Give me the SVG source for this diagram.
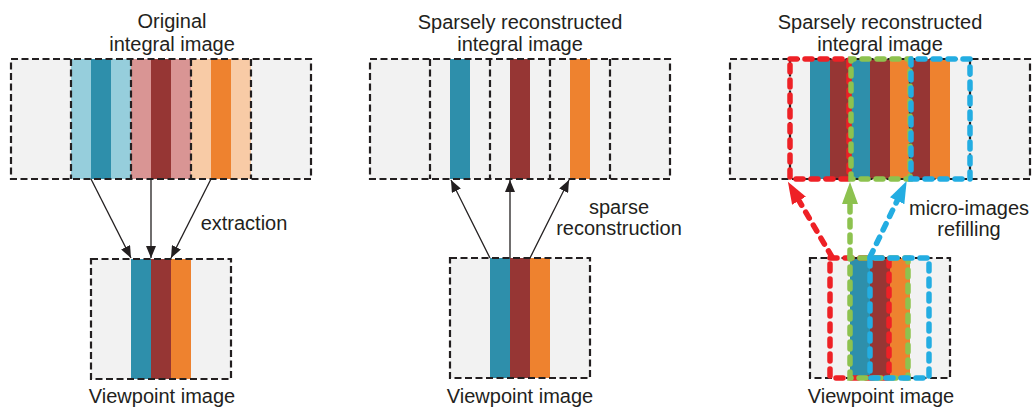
<svg xmlns="http://www.w3.org/2000/svg" width="1033" height="409" viewBox="0 0 1033 409">
  <defs>
    <style>
      .cell { fill: #f2f2f2; }
      .box { fill: none; stroke: #231f20; stroke-width: 2.2; stroke-dasharray: 7 3.5; }
      .lbl { font-family: "Liberation Sans", Arial, sans-serif; font-size: 20px; fill: #231f20; text-anchor: middle; }
      .conn { fill: none; stroke: #231f20; stroke-width: 1.3; }
      .lb { fill: #96cedc; } .db { fill: #2e8fab; }
      .lr { fill: #d99594; } .dr { fill: #963634; }
      .lo { fill: #f8cba6; } .do { fill: #ee822f; }
      .cd { fill: none; stroke-width: 5.5; stroke-linecap: round; stroke-dasharray: 7 8; }
      .red { stroke: #ee2126; } .green { stroke: #8dc24f; } .blue { stroke: #23ade2; }
    </style>
    <marker id="ah" markerUnits="userSpaceOnUse" markerWidth="13" markerHeight="10" refX="12" refY="5" orient="auto">
      <path d="M0,0 L12,5 L0,10 z" fill="#231f20"/>
    </marker>
    <marker id="ahRed" markerUnits="userSpaceOnUse" markerWidth="24" markerHeight="16" refX="2" refY="8" orient="auto">
      <path d="M0,0 L22,8 L0,16 z" fill="#ee2126"/>
    </marker>
    <marker id="ahGreen" markerUnits="userSpaceOnUse" markerWidth="24" markerHeight="16" refX="2" refY="8" orient="auto">
      <path d="M0,0 L22,8 L0,16 z" fill="#8dc24f"/>
    </marker>
    <marker id="ahBlue" markerUnits="userSpaceOnUse" markerWidth="24" markerHeight="16" refX="2" refY="8" orient="auto">
      <path d="M0,0 L22,8 L0,16 z" fill="#23ade2"/>
    </marker>
  </defs>

  <!-- Panel 1: original integral image -->
  <g id="original-integral">
    <rect class="cell" x="11" y="59" width="300" height="120"/>
    <rect class="lb" x="71" y="59" width="20" height="120"/>
    <rect class="db" x="91" y="59" width="20" height="120"/>
    <rect class="lb" x="111" y="59" width="20" height="120"/>
    <rect class="lr" x="131" y="59" width="20" height="120"/>
    <rect class="dr" x="151" y="59" width="20" height="120"/>
    <rect class="lr" x="171" y="59" width="20" height="120"/>
    <rect class="lo" x="191" y="59" width="20" height="120"/>
    <rect class="do" x="211" y="59" width="20" height="120"/>
    <rect class="lo" x="231" y="59" width="20" height="120"/>
    <rect class="box" x="11" y="59" width="300" height="120"/>
    <path class="box" d="M71,59 V179 M131,59 V179 M191,59 V179 M251,59 V179"/>
    <text class="lbl" x="172" y="28">Original</text>
    <text class="lbl" x="172" y="51">integral image</text>
  </g>

  <g id="viewpoint-1">
    <rect class="cell" x="91" y="259" width="140" height="120"/>
    <rect class="db" x="131" y="259" width="20" height="120"/>
    <rect class="dr" x="151" y="259" width="20" height="120"/>
    <rect class="do" x="171" y="259" width="20" height="120"/>
    <rect class="box" x="91" y="259" width="140" height="120"/>
    <text class="lbl" x="162" y="403">Viewpoint image</text>
  </g>

  <!-- Panel 2: sparse reconstruction -->
  <g id="sparse-integral">
    <rect class="cell" x="370" y="59" width="300" height="120"/>
    <rect class="db" x="450" y="59" width="20" height="120"/>
    <rect class="dr" x="510" y="59" width="20" height="120"/>
    <rect class="do" x="570" y="59" width="20" height="120"/>
    <rect class="box" x="370" y="59" width="300" height="120"/>
    <path class="box" d="M430,59 V179 M490,59 V179 M550,59 V179 M610,59 V179"/>
    <text class="lbl" x="520" y="29">Sparsely reconstructed</text>
    <text class="lbl" x="520" y="51">integral image</text>
  </g>

  <g id="viewpoint-2">
    <rect class="cell" x="450" y="258" width="140" height="120"/>
    <rect class="db" x="490" y="258" width="20" height="120"/>
    <rect class="dr" x="510" y="258" width="20" height="120"/>
    <rect class="do" x="530" y="258" width="20" height="120"/>
    <rect class="box" x="450" y="258" width="140" height="120"/>
    <text class="lbl" x="520" y="403">Viewpoint image</text>
  </g>

  <!-- Panel 3: micro-image refilling -->
  <g id="refilled-integral">
    <rect class="cell" x="730" y="59" width="300" height="120"/>
    <rect class="db" x="810" y="59" width="20" height="120"/>
    <rect class="dr" x="830" y="59" width="20" height="120"/>
    <rect class="db" x="850" y="59" width="20" height="120"/>
    <rect class="dr" x="870" y="59" width="20" height="120"/>
    <rect class="do" x="890" y="59" width="20" height="120"/>
    <rect class="dr" x="910" y="59" width="20" height="120"/>
    <rect class="do" x="930" y="59" width="20" height="120"/>
    <rect class="box" x="730" y="59" width="300" height="120"/>
    <path class="box" d="M790,59 V179 M850,59 V179 M910,59 V179 M970,59 V179"/>
    <rect class="cd red" x="790" y="59" width="59" height="120"/>
    <rect class="cd green" x="851" y="59" width="59" height="120" stroke-dashoffset="4"/>
    <rect class="cd blue" x="911" y="59" width="59" height="120" stroke-dashoffset="8"/>
    <text class="lbl" x="880" y="29">Sparsely reconstructed</text>
    <text class="lbl" x="880" y="51">integral image</text>
  </g>

  <g id="viewpoint-3">
    <rect class="cell" x="810" y="258" width="140" height="120"/>
    <rect class="db" x="850" y="258" width="20" height="120"/>
    <rect class="dr" x="870" y="258" width="20" height="120"/>
    <rect class="do" x="890" y="258" width="20" height="120"/>
    <rect class="box" x="810" y="258" width="140" height="120"/>
    <rect class="cd red" x="830" y="258" width="59" height="120"/>
    <rect class="cd green" x="850" y="258" width="58" height="120" stroke-dashoffset="5"/>
    <rect class="cd blue" x="870" y="258" width="59" height="120" stroke-dashoffset="10"/>
    <text class="lbl" x="881" y="403">Viewpoint image</text>
  </g>

  <!-- Connectors -->
  <g id="connectors">
    <line class="conn" x1="91" y1="179" x2="131" y2="258" marker-end="url(#ah)"/>
    <line class="conn" x1="151" y1="179" x2="151" y2="258" marker-end="url(#ah)"/>
    <line class="conn" x1="211" y1="179" x2="171" y2="258" marker-end="url(#ah)"/>
    <text class="lbl" x="244" y="230">extraction</text>

    <line class="conn" x1="490" y1="258" x2="451" y2="180" marker-end="url(#ah)"/>
    <line class="conn" x1="510" y1="258" x2="510" y2="180" marker-end="url(#ah)"/>
    <line class="conn" x1="530" y1="258" x2="569" y2="180" marker-end="url(#ah)"/>
    <text class="lbl" x="619" y="214">sparse</text>
    <text class="lbl" x="619" y="235">reconstruction</text>

    <line class="cd red" x1="832" y1="257" x2="798" y2="199" marker-end="url(#ahRed)"/>
    <line class="cd green" x1="850" y1="257" x2="850" y2="202" marker-end="url(#ahGreen)"/>
    <line class="cd blue" x1="870" y1="257" x2="898" y2="199" marker-end="url(#ahBlue)"/>
    <text class="lbl" x="969" y="215">micro-images</text>
    <text class="lbl" x="969" y="236">refilling</text>
  </g>
</svg>
